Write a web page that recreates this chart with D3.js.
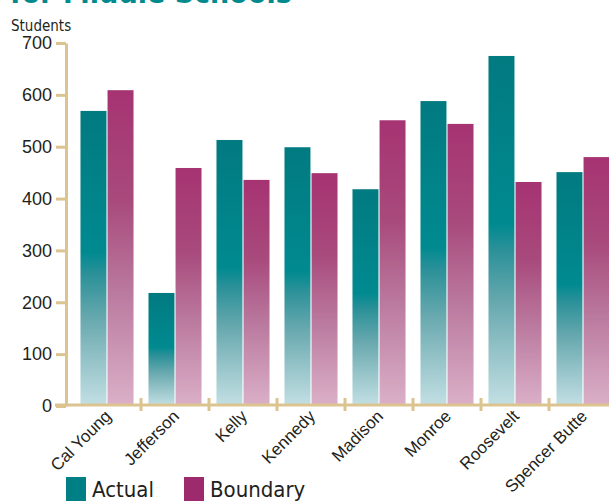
<!DOCTYPE html>
<html>
<head>
<meta charset="utf-8">
<script src="https://cdn.jsdelivr.net/npm/d3@7/dist/d3.min.js"></script>
<style>
  body { margin: 0; background: #fff; }
  svg { display: block; font-family: "DejaVu Sans Condensed", "DejaVu Sans", sans-serif; font-stretch: condensed; }
  .axis text { fill: #231f20; }
</style>
</head>
<body>
<div id="chart"></div>
<script>
var schools = ["Cal Young", "Jefferson", "Kelly", "Kennedy", "Madison", "Monroe", "Roosevelt", "Spencer Butte"];
var actual   = [569, 218, 513, 499, 418, 588, 675, 451];
var boundary = [609, 459, 436, 449, 551, 544, 432, 480];
var seriesNames = ["Actual", "Boundary"];
var yTicks = [0, 100, 200, 300, 400, 500, 600, 700];

var width = 609, height = 501;
var AXIS = "#dbc48f";

var svg = d3.select("#chart").append("svg")
    .attr("width", width)
    .attr("height", height);

// gradients, one per series
var defs = svg.append("defs");
var gradTeal = defs.append("linearGradient").attr("id", "g-actual")
    .attr("x1", 0).attr("y1", 0).attr("x2", 0).attr("y2", 1);
[[0, "#017a80"], [0.48, "#008a90"], [0.55, "#2a9098"], [0.7, "#66a8ae"], [0.85, "#96c4c9"], [1, "#c3e0e4"]]
  .forEach(function(s) { gradTeal.append("stop").attr("offset", s[0]).attr("stop-color", s[1]); });
var gradMag = defs.append("linearGradient").attr("id", "g-boundary")
    .attr("x1", 0).attr("y1", 0).attr("x2", 0).attr("y2", 1);
[[0, "#a63372"], [0.35, "#a84a7c"], [0.65, "#bb7ba0"], [1, "#dbb0c8"]]
  .forEach(function(s) { gradMag.append("stop").attr("offset", s[0]).attr("stop-color", s[1]); });

var yScale = d3.scaleLinear().domain([0, 700]).range([406, 43]);

var x0 = d3.scaleBand()
    .domain(schools)
    .range([73, 73 + 68 * schools.length])
    .paddingInner(0.22)
    .paddingOuter(0.11);

var x1 = d3.scaleBand()
    .domain(seriesNames)
    .range([0, x0.bandwidth()])
    .paddingInner(0.04);

var colors = { "Actual": "url(#g-actual)", "Boundary": "url(#g-boundary)" };
var solid = { "Actual": "#007f84", "Boundary": "#9e2a6e" };

// title (top line cut off by the frame)
svg.append("text")
    .attr("x", 10)
    .attr("y", 3)
    .style("font-weight", "bold")
    .style("font-size", "30px")
    .style("fill", "#008a8e")
    .text("for Middle Schools");

// bars
var rows = schools.map(function(s, i) {
  return { school: s, values: [ { key: "Actual", value: actual[i] }, { key: "Boundary", value: boundary[i] } ] };
});

var groups = svg.selectAll(".group")
    .data(rows)
    .enter().append("g")
    .attr("class", "group")
    .attr("transform", function(d) { return "translate(" + x0(d.school) + ",0)"; });

groups.selectAll("rect")
    .data(function(d) { return d.values; })
    .enter().append("rect")
    .attr("x", function(d) { return x1(d.key); })
    .attr("width", x1.bandwidth())
    .attr("y", function(d) { return yScale(d.value); })
    .attr("height", function(d) { return yScale(0) - yScale(d.value); })
    .style("fill", function(d) { return colors[d.key]; });

// y axis
var yAxis = svg.append("g")
    .attr("class", "axis y--axis")
    .attr("transform", "translate(66,0)")
    .call(d3.axisLeft(yScale).tickValues(yTicks).tickSize(10).tickSizeOuter(0).tickPadding(4));
yAxis.select(".domain").attr("stroke", AXIS).attr("stroke-width", 3);
yAxis.selectAll(".tick line").attr("stroke", AXIS).attr("stroke-width", 3);
yAxis.selectAll(".tick text").style("font-size", "18px").style("font-family", null);

svg.append("text")
    .attr("x", 11)
    .attr("y", 31)
    .style("font-size", "15px")
    .style("fill", "#231f20")
    .text("Students");

// x axis
var xAxis = svg.append("g")
    .attr("class", "axis x--axis")
    .attr("transform", "translate(0,405)")
    .call(d3.axisBottom(x0).tickSize(0).tickSizeOuter(0));
xAxis.select(".domain").remove();
xAxis.append("line")
    .attr("x1", 55).attr("x2", width)
    .attr("stroke", AXIS).attr("stroke-width", 3);
xAxis.selectAll(".tick text")
    .style("font-size", "17px")
    .style("font-family", null)
    .attr("y", 0)
    .attr("dy", "0.35em")
    .attr("text-anchor", "end")
    .attr("transform", "translate(1,8) rotate(-45)");

// boundary ticks between schools
var step = x0.step();
xAxis.selectAll(".sep")
    .data(schools.slice(1))
    .enter().append("line")
    .attr("class", "sep")
    .attr("x1", function(d) { return x0(d) - step * 0.11; })
    .attr("x2", function(d) { return x0(d) - step * 0.11; })
    .attr("y1", -7).attr("y2", 6)
    .attr("stroke", AXIS).attr("stroke-width", 3);

// legend
var legend = svg.append("g").attr("class", "legend");
var legendX = [66, 184];
legend.selectAll("rect")
    .data(seriesNames)
    .enter().append("rect")
    .attr("x", function(d, i) { return legendX[i]; })
    .attr("y", 477)
    .attr("width", 20)
    .attr("height", 24)
    .style("fill", function(d) { return solid[d]; });
legend.selectAll("text")
    .data(seriesNames)
    .enter().append("text")
    .attr("x", function(d, i) { return legendX[i] + 26; })
    .attr("y", 497)
    .style("font-size", "22px")
    .style("fill", "#231f20")
    .text(function(d) { return d; });
</script>
</body>
</html>
